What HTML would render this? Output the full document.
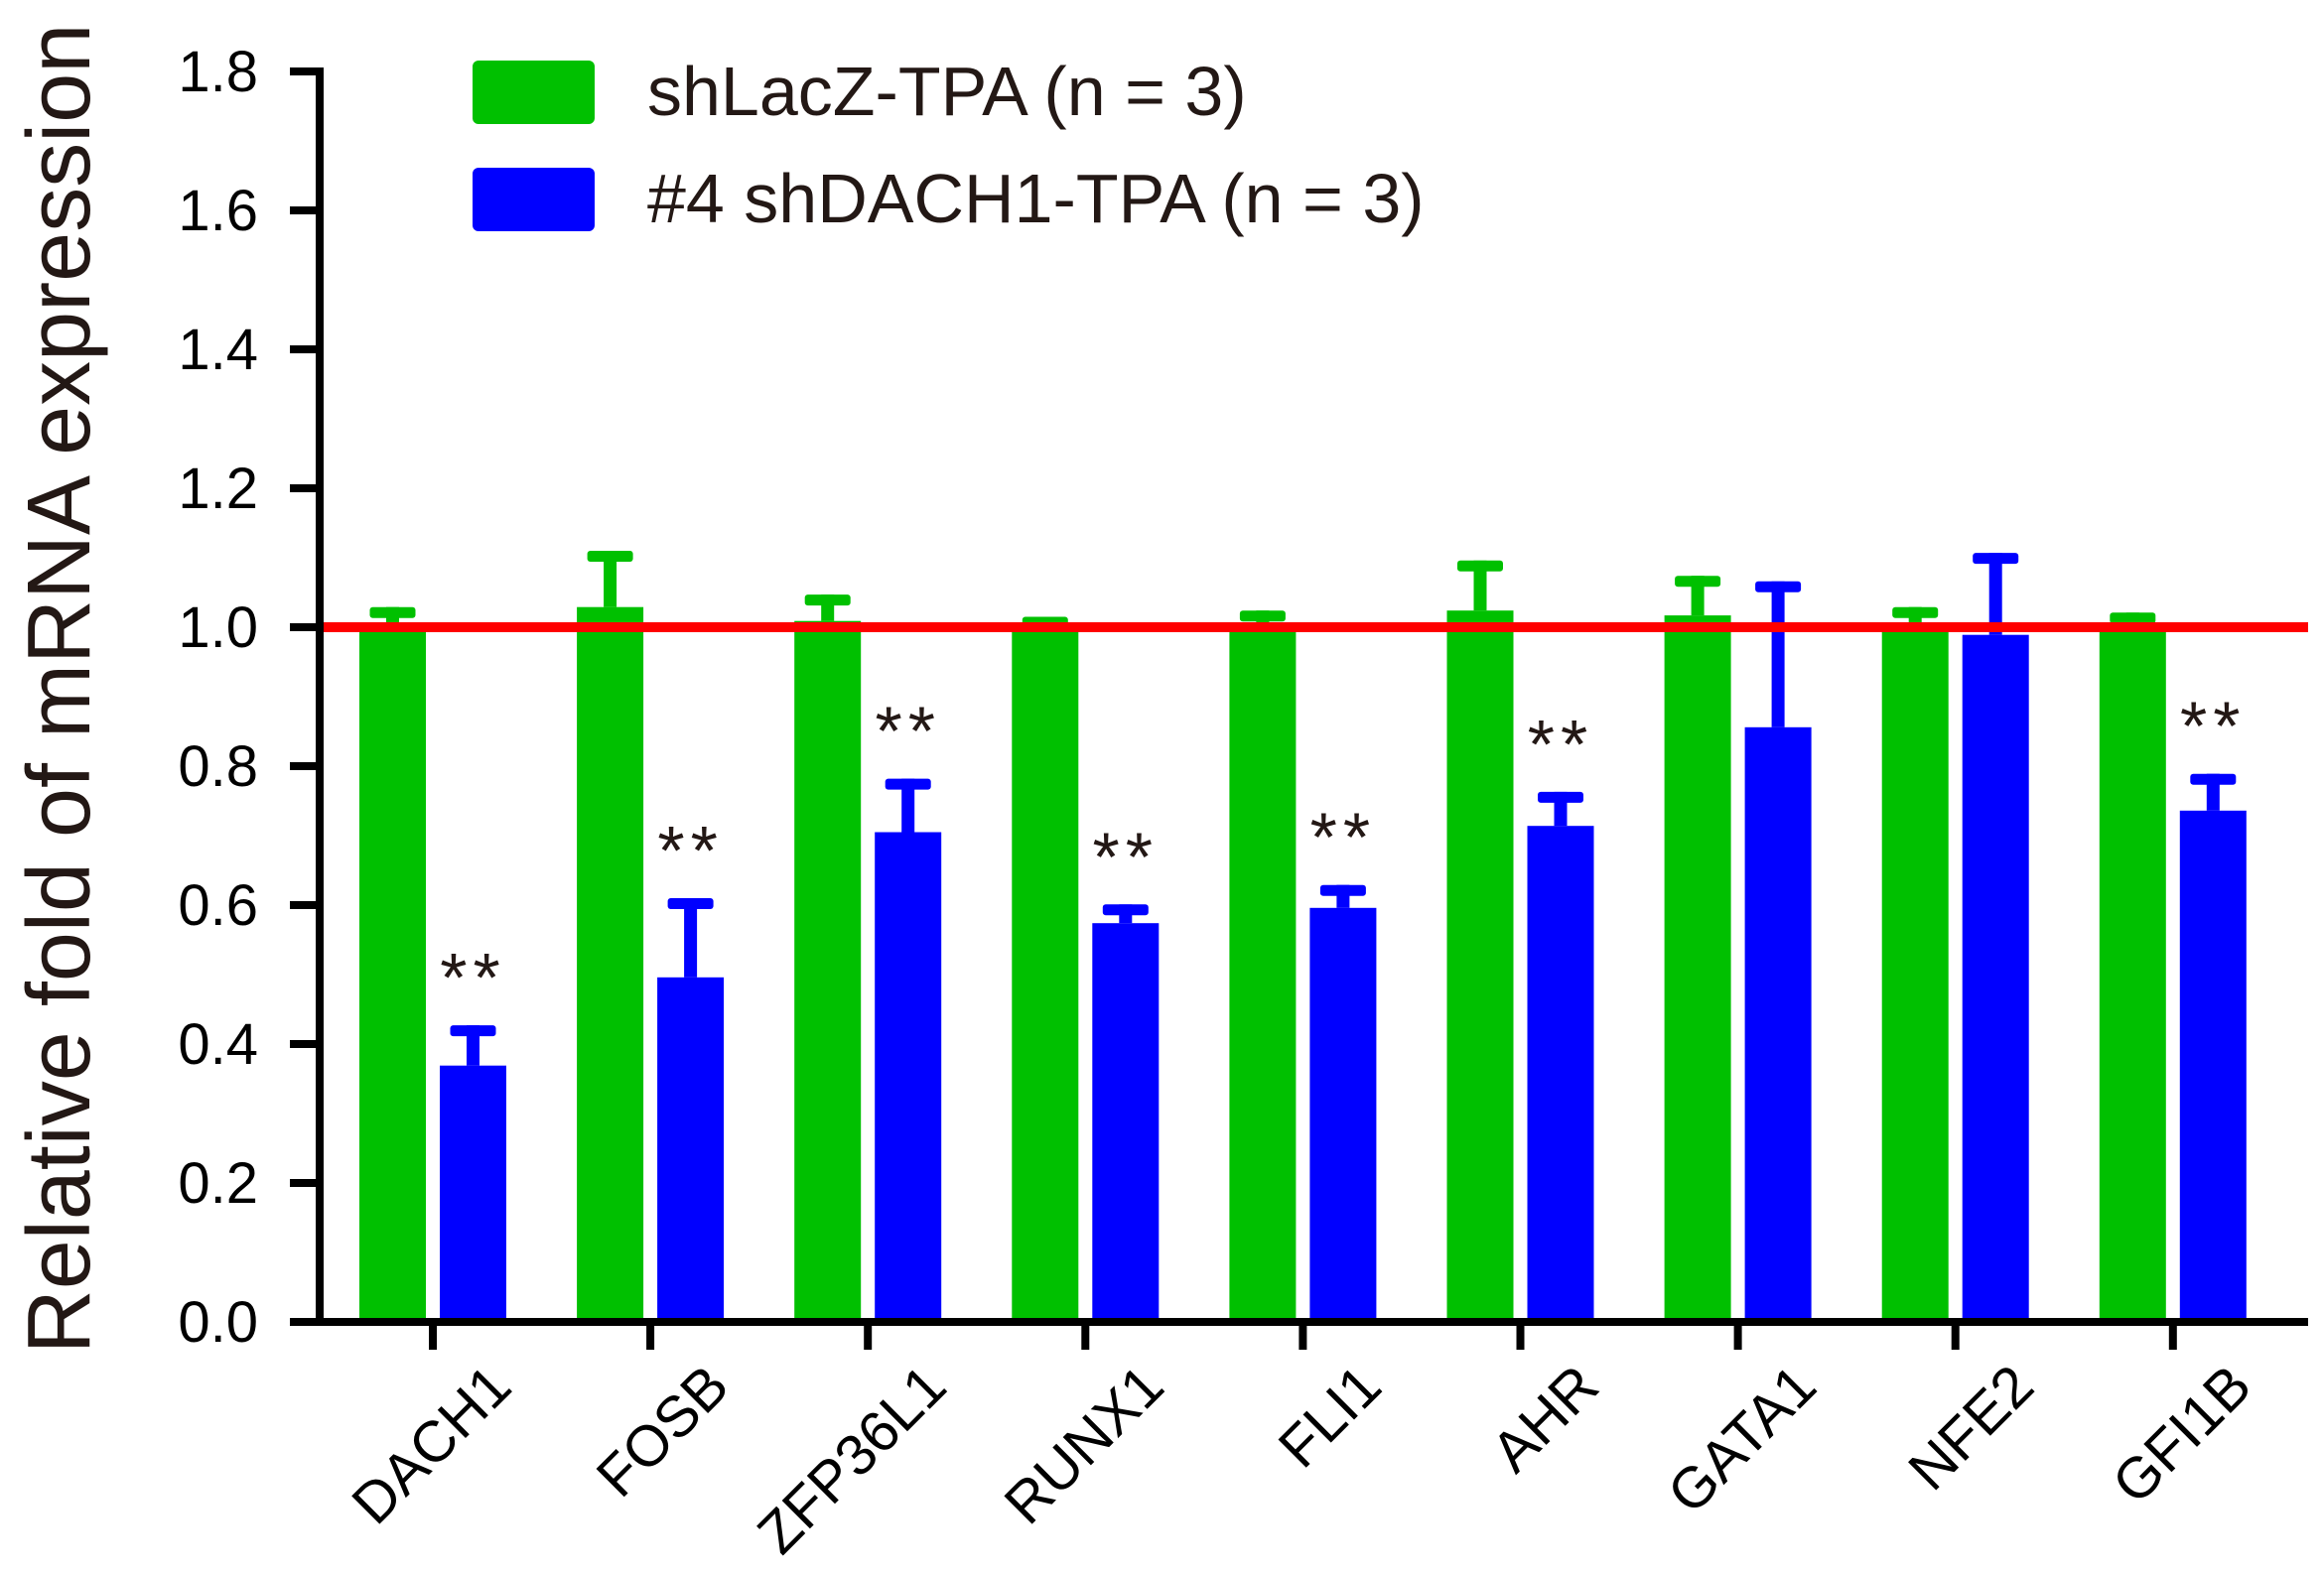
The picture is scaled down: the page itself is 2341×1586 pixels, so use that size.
<!DOCTYPE html>
<html><head><meta charset="utf-8"><style>
html,body{margin:0;padding:0;background:#fff;}
svg{display:block;font-family:"Liberation Sans",Arial,sans-serif;}
</style></head><body>
<svg id="chart" width="2341" height="1586" viewBox="0 0 2341 1586" xmlns="http://www.w3.org/2000/svg">
<g id="plot"></g>
<text x="0" y="0" transform="translate(90,694) rotate(-90)" text-anchor="middle" font-size="90" fill="#231815">Relative fold of mRNA expression</text>
<g>
<rect x="476" y="61" width="123" height="64" rx="6" fill="#00c000"/>
<text x="652" y="116" font-size="70" fill="#231815">shLacZ-TPA (n = 3)</text>
<rect x="476" y="169" width="123" height="64" rx="6" fill="#0000ff"/>
<text x="652" y="224" font-size="70" fill="#231815">#4 shDACH1-TPA (n = 3)</text>
</g>
</svg>
<script>
const categories=["DACH1","FOSB","ZFP36L1","RUNX1","FLI1","AHR","GATA1","NFE2","GFI1B"];
const greenValues=[1.0,1.029,1.009,1.0,1.0,1.024,1.017,1.0,1.0];
const greenErrTop=[1.029,1.11,1.047,1.015,1.024,1.096,1.074,1.029,1.021];
const blueValues=[0.369,0.496,0.705,0.574,0.596,0.714,0.856,0.989,0.736];
const blueErrTop=[0.427,0.61,0.782,0.601,0.629,0.763,1.066,1.107,0.789];
const significance=["**","**","**","**","**","**","","","**"];
const yTicks=[0,0.2,0.4,0.6,0.8,1.0,1.2,1.4,1.6,1.8];
const yTickLabels=["0.0","0.2","0.4","0.6","0.8","1.0","1.2","1.4","1.6","1.8"];
const refLine=[1.0];

const NS="http://www.w3.org/2000/svg";
const g=document.getElementById('plot');
const Y0=1332, PXU=700;
function yScale(v){return Y0-v*PXU;}
function xScale(i){return 436+i*219.1;}
function mk(tag,attrs,parent){const e=document.createElementNS(NS,tag);for(const k in attrs)e.setAttribute(k,attrs[k]);(parent||g).appendChild(e);return e;}

function drawBar(cx,v,err,color,name){
  const w=67;
  const r=mk('rect',{x:cx-w/2,y:yScale(v),width:w,height:Y0-yScale(v),fill:color});
  
  
  const s=mk('rect',{x:cx-6.5,y:yScale(err),width:13,height:yScale(v)-yScale(err),fill:color});
  
  
  const c=mk('rect',{x:cx-23,y:yScale(err),width:46,height:11,rx:3,fill:color});
  
  
}

categories.forEach((cat,i)=>{
  const t=xScale(i);
  drawBar(t-40.5,greenValues[i],greenErrTop[i],'#00c000','bar-shlacz-'+cat.toLowerCase());
  drawBar(t+40.5,blueValues[i],blueErrTop[i],'#0000ff','bar-shdach1-'+cat.toLowerCase());
  if(significance[i]){
    const st=mk('text',{x:t+40.5,y:yScale(blueErrTop[i])-24,'text-anchor':'middle','font-size':70,'letter-spacing':6,fill:'#231815'});
    st.textContent=significance[i];
    
    
  }
  const tk=mk('rect',{x:t-4,y:Y0,width:8,height:28,fill:'#000'});
  
  
  const lb=mk('text',{x:0,y:0,transform:'translate('+(t+82)+',1400) rotate(-45)','text-anchor':'end','font-size':58,fill:'#000'});
  lb.textContent=cat;
  
  
});

const rl=mk('rect',{x:322,y:yScale(refLine[0])-5,width:2003,height:10,fill:'#ff0000'});



const ya=mk('rect',{x:318,y:68,width:8,height:Y0-68+4,fill:'#000'});


const xa=mk('rect',{x:292,y:Y0-4,width:2033,height:8,fill:'#000'});



yTicks.forEach((v,i)=>{
  const y=yScale(v);
  const tk=mk('rect',{x:292,y:y-4,width:30,height:8,fill:'#000'});
  
  
  const lb=mk('text',{x:260,y:y+20,'text-anchor':'end','font-size':58,fill:'#000'});
  lb.textContent=yTickLabels[i];
  
  
});
</script>
</body></html>
